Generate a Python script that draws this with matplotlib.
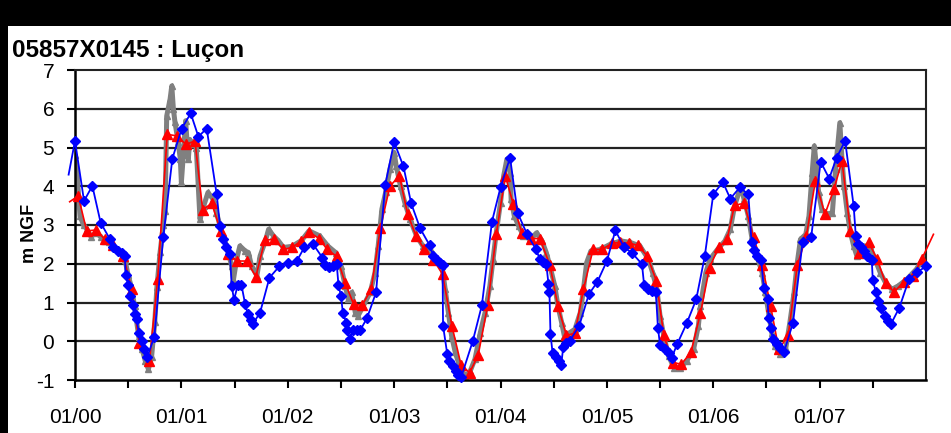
import matplotlib
matplotlib.use("Agg")
import matplotlib.pyplot as plt
from matplotlib.patches import Rectangle
import numpy as np

plt.rcParams['font.family'] = ['Liberation Sans', 'DejaVu Sans']

title = "05857X0145 : Luçon"
ylabel = "m NGF"
year_labels = ["01/00", "01/01", "01/02", "01/03", "01/04", "01/05", "01/06", "01/07"]
year_ticks = [0, 1, 2, 3, 4, 5, 6, 7]
half_ticks = [0.5, 1.5, 2.5, 3.5, 4.5, 5.5, 6.5, 7.5]
y_ticks = [-1, 0, 1, 2, 3, 4, 5, 6, 7]

# time in years since 01/2000
gray_t = [0.0, 0.02, 0.047, 0.08, 0.11, 0.15, 0.2, 0.24, 0.28, 0.32, 0.36, 0.40, 0.44, 0.47, 0.50, 0.53,
          0.56, 0.60, 0.63, 0.66, 0.69, 0.72, 0.75, 0.77, 0.80, 0.83, 0.847, 0.862, 0.894, 0.91, 0.925,
          0.94, 0.97, 0.99, 1.0, 1.02, 1.04, 1.065, 1.08, 1.11, 1.14, 1.175, 1.21, 1.25, 1.3, 1.33, 1.38,
          1.425, 1.473, 1.49, 1.52, 1.55, 1.6, 1.63, 1.66, 1.71, 1.74, 1.79, 1.82, 1.865, 1.91, 1.96,
          2.04, 2.13, 2.2, 2.3, 2.38, 2.45, 2.5, 2.54, 2.57, 2.6, 2.635, 2.66, 2.71, 2.775, 2.82, 2.85,
          2.885, 2.92, 2.96, 3.0, 3.02, 3.06, 3.1, 3.15, 3.21, 3.27, 3.34, 3.4, 3.45, 3.48, 3.51, 3.54,
          3.575, 3.62, 3.67, 3.715, 3.76, 3.81, 3.855, 3.9, 3.93, 3.96, 4.0, 4.03, 4.06, 4.09, 4.1, 4.13,
          4.17, 4.215, 4.28, 4.34, 4.39, 4.43, 4.465, 4.51, 4.54, 4.575, 4.6, 4.65, 4.7, 4.75, 4.78, 4.81,
          4.85, 4.94, 5.03, 5.13, 5.22, 5.31, 5.39, 5.43, 5.47, 5.5, 5.535, 5.58, 5.63, 5.69, 5.75, 5.815,
          5.86, 5.88, 5.93, 5.97, 6.04, 6.11, 6.16, 6.2, 6.26, 6.29, 6.33, 6.36, 6.41, 6.46, 6.49, 6.52,
          6.55, 6.58, 6.63, 6.68, 6.72, 6.76, 6.79, 6.82, 6.87, 6.9, 6.93, 6.95, 6.97, 6.99, 7.02, 7.07,
          7.12, 7.15, 7.19, 7.21, 7.23, 7.26, 7.29, 7.32, 7.35, 7.41, 7.47, 7.52, 7.57, 7.62, 7.68, 7.74,
          7.82, 7.91, 7.99]
gray_v = [4.8, 4.3, 3.23, 3.0, 2.9, 2.7, 2.8, 2.7, 2.6, 2.55, 2.45, 2.35, 2.3, 2.1, 1.7, 1.4,
          0.9, 0.1, -0.2, -0.5, -0.72, -0.4, 0.5, 1.4, 2.3, 3.0, 3.36, 5.81, 6.25, 6.59, 5.99,
          5.65, 5.13, 4.7, 4.1, 4.87, 5.69, 4.7, 5.2, 5.1, 5.0, 3.15, 3.49, 3.84, 3.66, 3.32, 2.8,
          2.46, 1.94, 1.6, 2.12, 2.46, 2.33, 2.29, 1.94, 1.69, 2.2, 2.59, 2.89, 2.72, 2.6, 2.42,
          2.45, 2.6, 2.85, 2.72, 2.45, 2.29, 1.94, 1.43, 1.08, 1.26, 0.74, 0.65, 0.91, 1.26, 1.77, 2.46,
          3.41, 3.84, 4.44, 4.87, 4.52, 4.0, 3.58, 3.15, 2.72, 2.46, 2.37, 2.12, 1.94, 1.34, 0.74, 0.14,
          -0.29, -0.68, -0.9, -0.77, -0.46, 0.22, 0.74, 1.43, 2.12, 2.8, 3.58, 4.27, 4.7, 4.35, 3.66, 3.23,
          2.98, 2.72, 2.63, 2.8, 2.59, 2.29, 1.94, 1.43, 0.91, 0.48, 0.14, 0.22, 0.31, 0.74, 1.34, 2.03,
          2.33, 2.37, 2.5, 2.59, 2.55, 2.46, 2.12, 1.77, 1.34, 0.65, 0.14, -0.38, -0.68, -0.68, -0.51, -0.21,
          0.4, 0.91, 1.77, 2.12, 2.37, 2.59, 2.89, 3.49, 4.0, 3.66, 3.23, 2.72, 2.2, 1.77, 1.26, 0.74,
          0.22, -0.12, -0.34, -0.21, 0.48, 1.26, 2.03, 2.63, 2.76, 3.23, 4.35, 5.04, 4.52, 3.84, 3.41, 3.28,
          3.32, 4.44, 5.64, 4.7, 4.0, 3.32, 2.8, 2.46, 2.2, 2.46, 2.46, 2.12, 1.77, 1.51, 1.34, 1.43,
          1.6, 1.86, 2.2]

red_t = [-0.05, 0.03, 0.11, 0.2, 0.28, 0.36, 0.455, 0.533, 0.605, 0.70, 0.777, 0.867, 0.956, 1.043,
         1.128, 1.2, 1.285, 1.37, 1.442, 1.527, 1.615, 1.70, 1.785, 1.87, 1.96, 2.04, 2.126, 2.2,
         2.295, 2.37, 2.46, 2.54, 2.62, 2.70, 2.784, 2.87, 2.96, 3.05, 3.127, 3.205, 3.28, 3.37,
         3.455, 3.543, 3.63, 3.71, 3.79, 3.88, 3.96, 4.045, 4.12, 4.2, 4.285, 4.37, 4.465, 4.54,
         4.62, 4.70, 4.78, 4.87, 4.955, 5.05, 5.127, 5.205, 5.29, 5.38, 5.465, 5.535, 5.62, 5.70,
         5.79, 5.88, 5.965, 6.05, 6.13, 6.2, 6.29, 6.38, 6.46, 6.54, 6.616, 6.705, 6.79, 6.876,
         6.96, 7.05, 7.134, 7.21, 7.29, 7.37, 7.46, 7.54, 7.62, 7.70, 7.79, 7.88, 7.96, 8.07]
red_v = [3.6, 3.75, 2.85, 2.87, 2.63, 2.48, 2.2, 1.34, -0.05, -0.51, 1.6, 5.34, 5.3, 5.08,
         5.17, 3.39, 3.56, 2.85, 2.25, 2.07, 2.07, 1.67, 2.61, 2.63, 2.37, 2.42, 2.59, 2.82,
         2.65, 2.37, 2.19, 1.5, 0.95, 0.93, 1.34, 2.91, 4.0, 4.27, 3.28, 2.72, 2.39, 2.1,
         1.73, 0.40, -0.62, -0.81, -0.36, 0.93, 2.76, 4.27, 3.54, 2.8, 2.65, 2.65, 1.96, 0.9,
         0.15, 0.21, 1.34, 2.37, 2.37, 2.53, 2.55, 2.53, 2.48, 2.2, 1.56, 0.15, -0.55, -0.59,
         -0.29, 0.73, 1.9, 2.42, 2.63, 3.51, 3.56, 2.68, 1.96, 0.9, -0.21, 0.15, 1.96, 2.72,
         4.14, 3.28, 3.92, 4.65, 2.85, 2.29, 2.56, 2.12, 1.5, 1.27, 1.53, 1.69, 2.12, 2.76]

blue_t = [-0.06, 0.0, 0.085, 0.163, 0.241, 0.329, 0.36, 0.407, 0.44, 0.47, 0.475, 0.50, 0.517, 0.542,
          0.564, 0.58, 0.60, 0.627, 0.649, 0.68, 0.746, 0.83, 0.915, 1.003, 1.088, 1.16, 1.238, 1.332,
          1.363, 1.395, 1.42, 1.457, 1.473, 1.495, 1.53, 1.565, 1.60, 1.625, 1.655, 1.67, 1.74, 1.828,
          1.92, 2.005, 2.085, 2.157, 2.24, 2.325, 2.35, 2.39, 2.43, 2.46, 2.477, 2.50, 2.518, 2.55,
          2.555, 2.587, 2.61, 2.65, 2.68, 2.744, 2.83, 2.916, 3.0, 3.088, 3.16, 3.245, 3.333, 3.37,
          3.40, 3.43, 3.455, 3.46, 3.50, 3.52, 3.55, 3.58, 3.60, 3.63, 3.74, 3.825, 3.92, 4.0, 4.09,
          4.16, 4.25, 4.33, 4.37, 4.40, 4.43, 4.45, 4.46, 4.47, 4.49, 4.52, 4.55, 4.57, 4.59, 4.62,
          4.65, 4.74, 4.83, 4.91, 5.0, 5.08, 5.16, 5.24, 5.33, 5.35, 5.39, 5.42, 5.46, 5.48, 5.50,
          5.55, 5.58, 5.61, 5.66, 5.75, 5.84, 5.92, 6.0, 6.09, 6.16, 6.25, 6.33, 6.36, 6.38, 6.41,
          6.45, 6.475, 6.51, 6.52, 6.54, 6.56, 6.60, 6.63, 6.665, 6.75, 6.84, 6.92, 7.01, 7.09, 7.16,
          7.24, 7.32, 7.34, 7.36, 7.39, 7.42, 7.45, 7.49, 7.50, 7.53, 7.55, 7.58, 7.61, 7.64, 7.67,
          7.75, 7.84, 7.92, 8.0]
blue_v = [4.3, 5.17, 3.62, 4.01, 3.06, 2.63, 2.42, 2.33, 2.29, 2.2, 1.71, 1.45, 1.17, 0.93,
          0.70, 0.57, 0.22, 0.01, -0.21, -0.40, 0.12, 2.69, 4.71, 5.49, 5.88, 5.28, 5.49, 3.79,
          2.98, 2.63, 2.42, 2.25, 1.43, 1.07, 1.45, 1.45, 0.95, 0.70, 0.55, 0.44, 0.74, 1.64,
          1.93, 2.01, 2.07, 2.43, 2.50, 2.16, 1.98, 1.92, 1.95, 2.0, 1.45, 1.17, 0.74, 0.48,
          0.28, 0.07, 0.28, 0.29, 0.28, 0.59, 1.26, 4.03, 5.14, 4.51, 3.56, 2.91, 2.48, 2.2,
          2.1, 2.03, 1.98, 0.40, -0.34, -0.5, -0.65, -0.78, -0.87, -0.93, 0.01, 0.93, 3.09, 3.97, 4.74,
          3.32, 2.76, 2.39, 2.12, 2.05, 2.0, 1.49, 1.26, 0.18, -0.31, -0.40, -0.52, -0.62, -0.15, -0.05,
          0.0, 0.40, 1.21, 1.53, 2.07, 2.86, 2.43, 2.27, 1.99, 1.45, 1.35, 1.3, 1.28, 0.35, -0.1,
          -0.2, -0.3, -0.42, -0.08, 0.46, 1.08, 2.19, 3.79, 4.11, 3.68, 3.97, 3.79, 2.55, 2.35, 2.2,
          2.1, 1.38, 1.08, 0.61, 0.33, 0.07, -0.07, -0.17, -0.28, 0.48, 2.56, 2.68, 4.63, 4.2, 4.74,
          5.17, 3.49, 2.72, 2.5, 2.42, 2.33, 2.2, 2.1, 1.57, 1.26, 1.05, 0.85, 0.65, 0.52, 0.44,
          0.87, 1.6, 1.79, 1.93]

W, H = 951, 433
fig = plt.figure(figsize=(W / 100, H / 100), dpi=100)
fig.patch.set_facecolor('white')
# black frame parts
fig.patches.append(Rectangle((0, 1 - 26 / H), 1, 26 / H, transform=fig.transFigure,
                             facecolor='black', edgecolor='none', zorder=0))
fig.patches.append(Rectangle((0, 0), 8 / W, 1, transform=fig.transFigure,
                             facecolor='black', edgecolor='none', zorder=0))

ax = fig.add_axes([75 / W, (H - 380) / H, (926 - 75) / W, (380 - 70) / H])
ax.set_xlim(0, 8)
ax.set_ylim(-1, 7)

for yv in y_ticks[1:-1]:
    ax.axhline(yv, color='#222222', lw=1.6, zorder=1)

def inside(ts, vs):
    pts = [(t, v) for t, v in zip(ts, vs) if 0 <= t <= 8]
    return [p[0] for p in pts], [p[1] for p in pts]

# gray measured series
ax.plot(gray_t, gray_v, color='#808080', lw=3.6, zorder=2, solid_capstyle='round')
ax.plot(gray_t, gray_v, ls='none', marker='^', ms=4.5, color='#808080', mec='#808080', zorder=2)

# red series
ax.plot(red_t, red_v, color='#ff0000', lw=1.2, zorder=3, clip_on=False)
rt, rv = inside(red_t, red_v)
ax.plot(rt, rv, ls='none', marker='^', ms=7.5, color='#ff0000', mec='#ff0000', zorder=3, clip_on=False)

# blue series
ax.plot(blue_t, blue_v, color='#0000ff', lw=1.3, zorder=4, clip_on=False)
bt, bv = inside(blue_t, blue_v)
ax.plot(bt, bv, ls='none', marker='D', ms=5.5, color='#0000ff', mec='#0000ff', zorder=4, clip_on=False)

ax.set_xticks(year_ticks)
ax.set_xticklabels(year_labels)
ax.set_xticks(half_ticks, minor=True)
ax.set_yticks(y_ticks)
ax.set_yticklabels([str(v) for v in y_ticks])
ax.tick_params(axis='x', which='both', direction='out', length=6, width=1.5, color='black',
               labelsize=15, pad=14)
ax.tick_params(axis='y', which='both', direction='out', length=6, width=1.5, color='black',
               labelsize=15, pad=9)
for s in ['left', 'bottom']:
    ax.spines[s].set_linewidth(1.8)
    ax.spines[s].set_color('black')
for s in ['top', 'right']:
    ax.spines[s].set_linewidth(1.5)
    ax.spines[s].set_color('#222222')

ax.set_ylabel(ylabel, fontsize=13, fontweight='bold')
ax.yaxis.set_label_coords((38 - 75) / 851, (380 - 233) / 310)
fig.text(12 / W, 1 - 50 / H, title, fontsize=17.5, fontweight='bold', ha='left', va='center')

fig.savefig('out.png', dpi=100)
